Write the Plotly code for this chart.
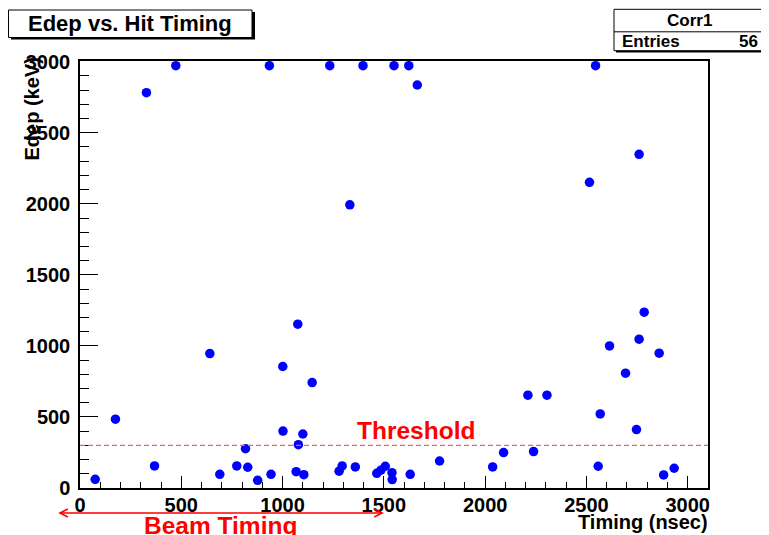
import plotly.graph_objects as go

# Data (Timing in nsec, Edep in keV)
timing = [473, 935, 1233, 1397, 1550, 1623, 2545,
          328, 1665, 1332, 2515, 2760,
          75, 175, 368, 641, 690, 774, 817, 828, 877, 943,
          1001, 1002, 1075, 1078, 1067, 1100, 1105, 1146,
          1279, 1294, 1359, 1465, 1485, 1507, 1540, 1541, 1630,
          1775, 2037, 2091, 2211, 2239, 2305, 2558, 2568, 2614,
          2693, 2747, 2760, 2785, 2859, 2881, 2933]
edep = [2972, 2972, 2972, 2972, 2972, 2972, 2972,
        2782, 2836, 1993, 2151, 2348,
        61, 484, 155, 946, 96, 155, 277, 146, 54, 96,
        855, 401, 1153, 305, 115, 380, 94, 742,
        118, 155, 148, 103, 125, 153, 108, 59, 96,
        190, 148, 249, 653, 256, 653, 153, 521, 1000,
        808, 411, 1047, 1237, 949, 92, 139]

threshold = 300
beam_start, beam_end = -115, 1500
x_range = [0, 3100]
y_range = [0, 3005]
entries = 56

# page has an 8px body margin, so the figure is drawn 8px smaller
OFF = 8
W, H = 769 - OFF, 535 - OFF
L, R, T, B = 72, 61, 53, 47
pw, ph = W - L - R, H - T - B
X0, Y0 = OFF + L, OFF + H - B  # screen pixel of plot left / bottom


def px(xs):
    return (xs - X0) / pw


def py(ys):
    return (Y0 - ys) / ph


font = "Liberation Sans, Arial, Helvetica, sans-serif"

fig = go.Figure()
fig.add_trace(go.Scatter(
    x=timing, y=edep, mode="markers",
    marker=dict(color="#0000ff", size=9.5, line=dict(width=0)),
    cliponaxis=False, showlegend=False,
))

shapes = [
    # threshold line
    dict(type="line", xref="paper", yref="y", x0=0, x1=1, y0=threshold, y1=threshold,
         line=dict(color="#ff5c5c", width=1.2, dash="5px,3px")),
    # title box shadow + box
    dict(type="rect", xref="paper", yref="paper", x0=px(11), x1=px(255), y0=py(39.5), y1=py(12),
         fillcolor="black", line=dict(width=0), layer="above"),
    dict(type="rect", xref="paper", yref="paper", x0=px(8.5), x1=px(252), y0=py(37.5), y1=py(10),
         fillcolor="white", line=dict(color="black", width=1), layer="above"),
    # stats box shadow + box
    dict(type="rect", xref="paper", yref="paper", x0=px(616), x1=px(775), y0=py(52.5), y1=py(11),
         fillcolor="black", line=dict(width=0), layer="above"),
    dict(type="rect", xref="paper", yref="paper", x0=px(614), x1=px(772), y0=py(50.7), y1=py(9.3),
         fillcolor="white", line=dict(color="black", width=1), layer="above"),
    dict(type="line", xref="paper", yref="paper", x0=px(614), x1=px(772), y0=py(31.8), y1=py(31.8),
         line=dict(color="black", width=1), layer="above"),
]

annotations = [
    dict(text="Edep vs. Hit Timing", xref="paper", yref="paper", x=px(130), y=py(23.5),
         showarrow=False, font=dict(family=font, size=22, color="black", weight="bold"),
         xanchor="center", yanchor="middle"),
    dict(text="Corr1", xref="paper", yref="paper", x=px(689), y=py(20.5),
         showarrow=False, font=dict(family=font, size=17, color="black", weight="bold"),
         xanchor="center", yanchor="middle"),
    dict(text="Entries", xref="paper", yref="paper", x=px(620), y=py(41.5),
         showarrow=False, font=dict(family=font, size=17, color="black", weight="bold"),
         xanchor="left", yanchor="middle"),
    dict(text=str(entries), xref="paper", yref="paper", x=px(760), y=py(41.5),
         showarrow=False, font=dict(family=font, size=17, color="black", weight="bold"),
         xanchor="right", yanchor="middle"),
    dict(text="Threshold", xref="x", yref="y", x=1660, y=threshold,
         showarrow=False, font=dict(family=font, size=24.5, color="red", weight="bold"),
         xanchor="center", yanchor="bottom", yshift=-1),
    # beam timing arrow (double headed)
    dict(text="", xref="x", yref="paper", x=beam_end, y=py(513),
         ax=beam_start, ay=0, axref="x", ayref="pixel",
         showarrow=True, arrowhead=5, startarrowhead=5, arrowside="end+start",
         arrowsize=1.2, startarrowsize=1.2, arrowwidth=1.3, arrowcolor="red", standoff=0,
         startstandoff=0),
    dict(text="Beam Timing", xref="x", yref="paper", x=(beam_start + beam_end) / 2, y=py(525),
         showarrow=False, font=dict(family=font, size=24.5, color="red", weight="bold"),
         xanchor="center", yanchor="middle"),
    dict(text="Timing (nsec)", xref="paper", yref="paper", x=px(710), y=py(521.5),
         showarrow=False, font=dict(family=font, size=20, color="black", weight="bold"),
         xanchor="right", yanchor="middle"),
    dict(text="Edep (keV)", xref="paper", yref="paper", x=px(31), y=py(56),
         showarrow=False, textangle=-90,
         font=dict(family=font, size=20, color="black", weight="bold"),
         xanchor="center", yanchor="top"),
]

fig.update_layout(
    width=W, height=H, autosize=False,
    margin=dict(l=L, r=R, t=T, b=B, pad=0),
    paper_bgcolor="white", plot_bgcolor="white",
    shapes=shapes, annotations=annotations,
    xaxis=dict(range=x_range, showgrid=False, zeroline=False,
               showline=True, mirror=True, linecolor="black", linewidth=1.5,
               ticks="inside", ticklen=12, tickwidth=1.2, tickcolor="black", dtick=500, tick0=0,
               ticklabelstandoff=-2,
               tickfont=dict(family=font, size=20, color="black", weight="bold"),
               minor=dict(dtick=100, ticks="inside", ticklen=6, tickwidth=1, tickcolor="black")),
    yaxis=dict(range=y_range, showgrid=False, zeroline=False,
               showline=True, mirror=True, linecolor="black", linewidth=1.5,
               ticks="inside", ticklen=18, tickwidth=1.2, tickcolor="black", dtick=500, tick0=0,
               ticklabelstandoff=4,
               tickfont=dict(family=font, size=20, color="black", weight="bold"),
               minor=dict(dtick=100, ticks="inside", ticklen=9, tickwidth=1, tickcolor="black")),
)

fig.write_html("out.html")
